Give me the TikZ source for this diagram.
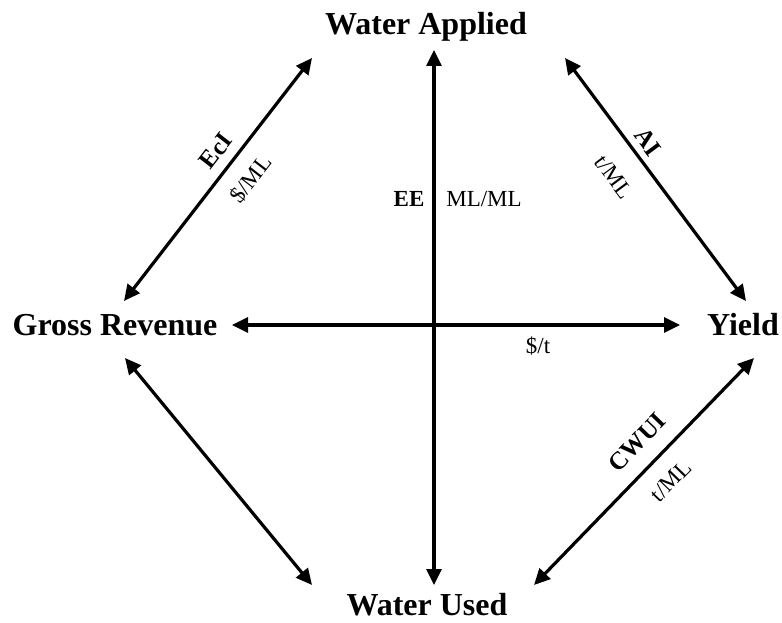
\documentclass[tikz,border=0pt]{standalone}
\usepackage{fontspec}
\setmainfont{Liberation Serif}
\usetikzlibrary{arrows.meta}
\begin{document}
\begin{tikzpicture}[x=1pt,y=1pt,
  big/.style={font=\fontsize{32}{36}\selectfont\bfseries, anchor=base, inner sep=0pt},
  lab/.style={font=\fontsize{23}{26}\selectfont, inner sep=0pt},
  blab/.style={font=\fontsize{23}{26}\selectfont\bfseries, inner sep=0pt},
  dlab/.style={font=\fontsize{25}{28}\selectfont\bfseries, inner sep=0pt},
  dbl/.style={line width=3.2pt, {Triangle[length=16pt,width=15pt]}-{Triangle[length=16pt,width=15pt]}}]
\useasboundingbox (0,0) rectangle (782,622);
% main labels
\node[big] (wa) at (426,587) {Water Applied};
\node[big] (gr) at (115,286) {Gross Revenue};
\node[big] (yi) at (743,286) {Yield};
\node[big] (wu) at (427,7) {Water Used};
% arrow end points
\coordinate (vt) at (434,572);
\coordinate (vb) at (434,37);
\coordinate (hl) at (232,297);
\coordinate (hr) at (680,297);
\coordinate (ulA) at (124,321);
\coordinate (ulB) at (312,564);
\coordinate (urA) at (565,564);
\coordinate (urB) at (746,321);
\coordinate (llA) at (125,264);
\coordinate (llB) at (312,37);
\coordinate (lrA) at (754,264);
\coordinate (lrB) at (534,37);
% connectors
\draw[dbl] (vb) -- (vt);
\draw[dbl] (hl) -- (hr);
\draw[dbl] (ulA) -- (ulB);
\draw[dbl] (urA) -- (urB);
\draw[dbl] (llA) -- (llB);
\draw[dbl] (lrA) -- (lrB);
% connector labels
\node[blab, anchor=base] (ee) at (409,415) {EE};
\node[lab, anchor=base] (mlml) at (484,415) {ML/ML};
\node[lab, anchor=base] (st) at (538,269) {\$/t};
\node[dlab, rotate=52.3] (eci) at (216,471) {EcI};
\node[lab, rotate=52.3] (sml) at (251,443) {\$/ML};
\node[dlab, rotate=-53.3] (ai) at (648,480) {AI};
\node[lab, rotate=-53.3] (tml1) at (614,445) {t/ML};
\node[dlab, rotate=45.9] (cwui) at (637,180) {CWUI};
\node[lab, rotate=45.9] (tml2) at (671,141) {t/ML};
\end{tikzpicture}
\end{document}
